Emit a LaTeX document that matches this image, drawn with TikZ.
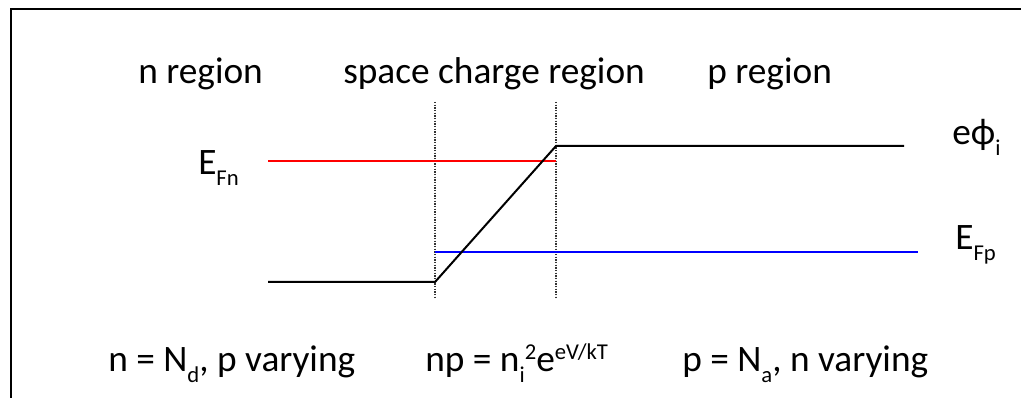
\documentclass[tikz,border=0pt]{standalone}
\usepackage{fontspec}
\setmainfont{Carlito}
\newcommand{\dnx}[1]{\raisebox{-8pt}{\fontsize{17}{17}\selectfont #1}}
\newcommand{\upx}[1]{\raisebox{9pt}{\fontsize{17}{17}\selectfont #1}}
\begin{document}
\begin{tikzpicture}[x=0.75pt,y=-0.75pt,
  lbl/.style={inner sep=0pt,anchor=base west,font=\fontsize{28}{34}\selectfont},
  band/.style={line width=1.5pt,black},
  fermin/.style={line width=1.5pt,red},
  fermip/.style={line width=1.5pt,blue},
  edge/.style={densely dotted,line width=1pt,black!80}]
\useasboundingbox (0,0) rectangle (1021,398);
\draw[line width=2pt] (11,398) -- (11,9) -- (1021,9);
% headings
\node[lbl] (nreg) at (138,84) {n region};
\node[lbl] (scr) at (343,84) {space charge region};
\node[lbl] (preg) at (707,84) {p region};
% coordinates
\coordinate (b1) at (268,282);
\coordinate (b2) at (435,282);
\coordinate (b3) at (556,146);
\coordinate (b4) at (904,146);
\coordinate (r1) at (268,161);
\coordinate (r2) at (556,161);
\coordinate (u1) at (435,252);
\coordinate (u2) at (918,252);
\coordinate (d1t) at (435,102);
\coordinate (d1b) at (435,298);
\coordinate (d2t) at (556,102);
\coordinate (d2b) at (556,298);
\draw[edge] (d1t) -- (d1b);
\draw[edge] (d2t) -- (d2b);
\draw[fermin] (r1) -- (r2);
\draw[fermip] (u1) -- (u2);
\draw[band] (b1) -- (b2) -- (b3) -- (b4);
% labels
\node[lbl] (efn) at (198,175) {E\dnx{Fn}};
\node[lbl] (ephi) at (952,145) {eϕ\dnx{i}};
\node[lbl] (efp) at (955,250) {E\dnx{Fp}};
% bottom
\node[lbl] (nside) at (108,372) {n = N\dnx{d}, p varying};
\node[lbl] (mid) at (425,372) {np = n\dnx{i}\upx{2}e\upx{eV/kT}};
\node[lbl] (pside) at (682,372) {p = N\dnx{a}, n varying};
\end{tikzpicture}
\end{document}
